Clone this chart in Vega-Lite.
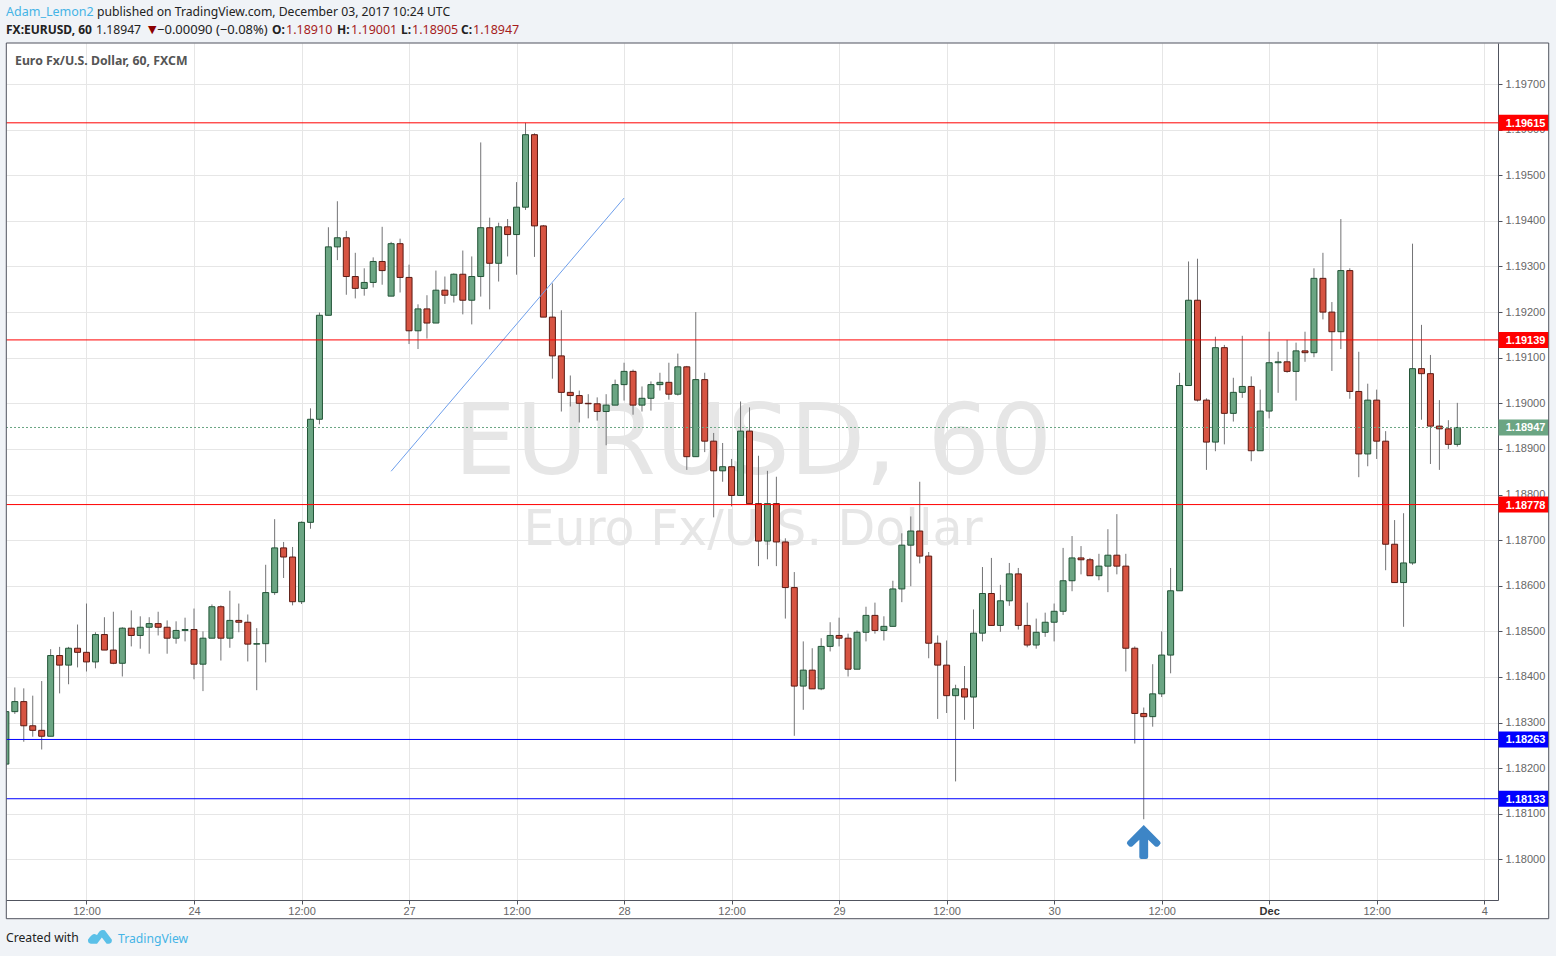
{"$schema":"https://vega.github.io/schema/vega-lite/v6.json","width":1492,"height":857,"autosize":"none","padding":{"left":6,"top":43,"right":58,"bottom":56},"background":"#ffffff","config":{"view":{"stroke":null},"font":"Liberation Sans"},
"datasets":{
"candles":[
{"t":-9,"o":1.18209,"h":1.18324,"l":1.18205,"c":1.18324,"d":"up"},
{"t":-8,"o":1.18324,"h":1.18377,"l":1.18319,"c":1.18346,"d":"up"},
{"t":-7,"o":1.18346,"h":1.18375,"l":1.18258,"c":1.18293,"d":"down"},
{"t":-6,"o":1.18293,"h":1.18359,"l":1.18269,"c":1.18283,"d":"down"},
{"t":-5,"o":1.18283,"h":1.18391,"l":1.18241,"c":1.1827,"d":"down"},
{"t":-4,"o":1.1827,"h":1.18461,"l":1.1827,"c":1.18447,"d":"up"},
{"t":-3,"o":1.18447,"h":1.18466,"l":1.18364,"c":1.18426,"d":"down"},
{"t":-2,"o":1.18426,"h":1.18466,"l":1.18384,"c":1.18463,"d":"up"},
{"t":-1,"o":1.18463,"h":1.18515,"l":1.18421,"c":1.18454,"d":"down"},
{"t":0,"o":1.18454,"h":1.18561,"l":1.18412,"c":1.18433,"d":"down"},
{"t":1,"o":1.18433,"h":1.18498,"l":1.18419,"c":1.18493,"d":"up"},
{"t":2,"o":1.18493,"h":1.18531,"l":1.18459,"c":1.18459,"d":"down"},
{"t":3,"o":1.18459,"h":1.18543,"l":1.18428,"c":1.1843,"d":"down"},
{"t":4,"o":1.1843,"h":1.18509,"l":1.18401,"c":1.18507,"d":"up"},
{"t":5,"o":1.18507,"h":1.18546,"l":1.18467,"c":1.18491,"d":"down"},
{"t":6,"o":1.18491,"h":1.18533,"l":1.18462,"c":1.18509,"d":"up"},
{"t":7,"o":1.18509,"h":1.18531,"l":1.18451,"c":1.18517,"d":"up"},
{"t":8,"o":1.18517,"h":1.18543,"l":1.18491,"c":1.18509,"d":"down"},
{"t":9,"o":1.18509,"h":1.18524,"l":1.18451,"c":1.18485,"d":"down"},
{"t":10,"o":1.18485,"h":1.18522,"l":1.18473,"c":1.18502,"d":"up"},
{"t":11,"o":1.18502,"h":1.1853,"l":1.18478,"c":1.18504,"d":"up"},
{"t":12,"o":1.18504,"h":1.1855,"l":1.18395,"c":1.18428,"d":"down"},
{"t":13,"o":1.18428,"h":1.185,"l":1.18369,"c":1.18485,"d":"up"},
{"t":14,"o":1.18485,"h":1.18559,"l":1.18485,"c":1.18554,"d":"up"},
{"t":15,"o":1.18554,"h":1.18557,"l":1.18436,"c":1.18485,"d":"down"},
{"t":16,"o":1.18485,"h":1.18589,"l":1.18464,"c":1.18524,"d":"up"},
{"t":17,"o":1.18524,"h":1.18561,"l":1.18498,"c":1.1852,"d":"down"},
{"t":18,"o":1.1852,"h":1.18537,"l":1.18434,"c":1.18472,"d":"down"},
{"t":19,"o":1.18472,"h":1.18507,"l":1.18371,"c":1.18473,"d":"up"},
{"t":20,"o":1.18473,"h":1.18646,"l":1.18432,"c":1.18585,"d":"up"},
{"t":21,"o":1.18585,"h":1.18746,"l":1.1858,"c":1.18683,"d":"up"},
{"t":22,"o":1.18683,"h":1.18696,"l":1.18617,"c":1.18663,"d":"down"},
{"t":23,"o":1.18663,"h":1.18685,"l":1.18557,"c":1.18565,"d":"down"},
{"t":24,"o":1.18565,"h":1.18741,"l":1.1856,"c":1.18739,"d":"up"},
{"t":25,"o":1.18739,"h":1.18989,"l":1.18725,"c":1.18965,"d":"up"},
{"t":26,"o":1.18965,"h":1.19199,"l":1.18954,"c":1.19193,"d":"up"},
{"t":27,"o":1.19193,"h":1.19386,"l":1.19193,"c":1.19343,"d":"up"},
{"t":28,"o":1.19343,"h":1.19443,"l":1.19314,"c":1.19363,"d":"up"},
{"t":29,"o":1.19363,"h":1.19378,"l":1.19238,"c":1.19278,"d":"down"},
{"t":30,"o":1.19278,"h":1.1933,"l":1.1923,"c":1.19252,"d":"down"},
{"t":31,"o":1.19252,"h":1.19296,"l":1.19236,"c":1.19265,"d":"up"},
{"t":32,"o":1.19265,"h":1.1932,"l":1.19254,"c":1.19311,"d":"up"},
{"t":33,"o":1.19311,"h":1.19387,"l":1.1926,"c":1.19291,"d":"down"},
{"t":34,"o":1.19235,"h":1.19354,"l":1.19235,"c":1.1935,"d":"up"},
{"t":35,"o":1.1935,"h":1.19361,"l":1.19243,"c":1.19276,"d":"down"},
{"t":36,"o":1.19276,"h":1.19304,"l":1.1913,"c":1.19159,"d":"down"},
{"t":37,"o":1.19159,"h":1.19217,"l":1.19119,"c":1.19207,"d":"up"},
{"t":38,"o":1.19207,"h":1.19237,"l":1.19142,"c":1.19176,"d":"down"},
{"t":39,"o":1.19176,"h":1.19291,"l":1.19176,"c":1.19248,"d":"up"},
{"t":40,"o":1.19248,"h":1.19278,"l":1.19218,"c":1.19237,"d":"down"},
{"t":41,"o":1.19237,"h":1.19285,"l":1.19221,"c":1.19283,"d":"up"},
{"t":42,"o":1.19283,"h":1.19335,"l":1.19195,"c":1.19226,"d":"down"},
{"t":43,"o":1.19226,"h":1.19322,"l":1.19173,"c":1.19278,"d":"up"},
{"t":44,"o":1.19278,"h":1.19572,"l":1.19234,"c":1.19385,"d":"up"},
{"t":45,"o":1.19385,"h":1.19407,"l":1.19206,"c":1.19307,"d":"down"},
{"t":46,"o":1.19307,"h":1.19396,"l":1.19267,"c":1.19387,"d":"up"},
{"t":47,"o":1.19387,"h":1.19404,"l":1.19322,"c":1.1937,"d":"down"},
{"t":48,"o":1.1937,"h":1.19485,"l":1.19282,"c":1.1943,"d":"up"},
{"t":49,"o":1.1943,"h":1.19615,"l":1.19424,"c":1.19589,"d":"up"},
{"t":50,"o":1.19589,"h":1.19592,"l":1.19321,"c":1.19389,"d":"down"},
{"t":51,"o":1.19389,"h":1.19391,"l":1.19189,"c":1.19189,"d":"down"},
{"t":52,"o":1.19189,"h":1.19263,"l":1.19054,"c":1.19104,"d":"down"},
{"t":53,"o":1.19104,"h":1.19204,"l":1.18982,"c":1.19024,"d":"down"},
{"t":54,"o":1.19024,"h":1.19061,"l":1.18993,"c":1.19017,"d":"down"},
{"t":55,"o":1.19017,"h":1.19028,"l":1.18958,"c":1.19,"d":"down"},
{"t":56,"o":1.19,"h":1.1902,"l":1.18967,"c":1.18999,"d":"down"},
{"t":57,"o":1.18999,"h":1.19013,"l":1.18962,"c":1.18982,"d":"down"},
{"t":58,"o":1.18982,"h":1.1902,"l":1.18908,"c":1.18996,"d":"up"},
{"t":59,"o":1.18996,"h":1.19052,"l":1.18996,"c":1.19041,"d":"up"},
{"t":60,"o":1.19041,"h":1.19089,"l":1.19006,"c":1.1907,"d":"up"},
{"t":61,"o":1.1907,"h":1.19074,"l":1.18975,"c":1.18996,"d":"down"},
{"t":62,"o":1.18996,"h":1.19037,"l":1.18982,"c":1.19011,"d":"up"},
{"t":63,"o":1.19011,"h":1.19048,"l":1.18984,"c":1.19041,"d":"up"},
{"t":64,"o":1.19041,"h":1.19067,"l":1.19028,"c":1.19046,"d":"up"},
{"t":65,"o":1.19046,"h":1.19089,"l":1.19008,"c":1.1902,"d":"down"},
{"t":66,"o":1.1902,"h":1.19109,"l":1.19017,"c":1.1908,"d":"up"},
{"t":67,"o":1.1908,"h":1.19082,"l":1.18854,"c":1.18883,"d":"down"},
{"t":68,"o":1.18883,"h":1.192,"l":1.18883,"c":1.19052,"d":"up"},
{"t":69,"o":1.19052,"h":1.19067,"l":1.18893,"c":1.18917,"d":"down"},
{"t":70,"o":1.18917,"h":1.18935,"l":1.1875,"c":1.18852,"d":"down"},
{"t":71,"o":1.18852,"h":1.18913,"l":1.18828,"c":1.18861,"d":"up"},
{"t":72,"o":1.18861,"h":1.18878,"l":1.18774,"c":1.18798,"d":"down"},
{"t":73,"o":1.18798,"h":1.19004,"l":1.18798,"c":1.18939,"d":"up"},
{"t":74,"o":1.18939,"h":1.18991,"l":1.1878,"c":1.1878,"d":"down"},
{"t":75,"o":1.1878,"h":1.18885,"l":1.18643,"c":1.18698,"d":"down"},
{"t":76,"o":1.18698,"h":1.18852,"l":1.18658,"c":1.1878,"d":"up"},
{"t":77,"o":1.1878,"h":1.18839,"l":1.18643,"c":1.18696,"d":"down"},
{"t":78,"o":1.18696,"h":1.18704,"l":1.18528,"c":1.18596,"d":"down"},
{"t":79,"o":1.18596,"h":1.1863,"l":1.18271,"c":1.1838,"d":"down"},
{"t":80,"o":1.1838,"h":1.18478,"l":1.18328,"c":1.18415,"d":"up"},
{"t":81,"o":1.18415,"h":1.18463,"l":1.18374,"c":1.18374,"d":"down"},
{"t":82,"o":1.18374,"h":1.18485,"l":1.18371,"c":1.18467,"d":"up"},
{"t":83,"o":1.18467,"h":1.1852,"l":1.18456,"c":1.18491,"d":"up"},
{"t":84,"o":1.18491,"h":1.1853,"l":1.18467,"c":1.18485,"d":"down"},
{"t":85,"o":1.18485,"h":1.18495,"l":1.18401,"c":1.18417,"d":"down"},
{"t":86,"o":1.18417,"h":1.18502,"l":1.18417,"c":1.18498,"d":"up"},
{"t":87,"o":1.18498,"h":1.18554,"l":1.18478,"c":1.18535,"d":"up"},
{"t":88,"o":1.18535,"h":1.18563,"l":1.18495,"c":1.18502,"d":"down"},
{"t":89,"o":1.18502,"h":1.18533,"l":1.1848,"c":1.18511,"d":"up"},
{"t":90,"o":1.18511,"h":1.18611,"l":1.18511,"c":1.18593,"d":"up"},
{"t":91,"o":1.18593,"h":1.18715,"l":1.18564,"c":1.18689,"d":"up"},
{"t":92,"o":1.18689,"h":1.18752,"l":1.18599,"c":1.1872,"d":"up"},
{"t":93,"o":1.1872,"h":1.18828,"l":1.18649,"c":1.18665,"d":"down"},
{"t":94,"o":1.18665,"h":1.18674,"l":1.18441,"c":1.18474,"d":"down"},
{"t":95,"o":1.18474,"h":1.18491,"l":1.18308,"c":1.18426,"d":"down"},
{"t":96,"o":1.18426,"h":1.1848,"l":1.18321,"c":1.18359,"d":"down"},
{"t":97,"o":1.18359,"h":1.18383,"l":1.18171,"c":1.18374,"d":"up"},
{"t":98,"o":1.18374,"h":1.18424,"l":1.18306,"c":1.18356,"d":"down"},
{"t":99,"o":1.18356,"h":1.18548,"l":1.18286,"c":1.18496,"d":"up"},
{"t":100,"o":1.18496,"h":1.18641,"l":1.18478,"c":1.18583,"d":"up"},
{"t":101,"o":1.18583,"h":1.18661,"l":1.18513,"c":1.18513,"d":"down"},
{"t":102,"o":1.18513,"h":1.18602,"l":1.18499,"c":1.18567,"d":"up"},
{"t":103,"o":1.18567,"h":1.1865,"l":1.18556,"c":1.18626,"d":"up"},
{"t":104,"o":1.18626,"h":1.18639,"l":1.18504,"c":1.18513,"d":"down"},
{"t":105,"o":1.18513,"h":1.18563,"l":1.18465,"c":1.1847,"d":"down"},
{"t":106,"o":1.1847,"h":1.18528,"l":1.18462,"c":1.18498,"d":"up"},
{"t":107,"o":1.18498,"h":1.18541,"l":1.18488,"c":1.1852,"d":"up"},
{"t":108,"o":1.1852,"h":1.18561,"l":1.18478,"c":1.18544,"d":"up"},
{"t":109,"o":1.18544,"h":1.18683,"l":1.18536,"c":1.18611,"d":"up"},
{"t":110,"o":1.18611,"h":1.18709,"l":1.18588,"c":1.18661,"d":"up"},
{"t":111,"o":1.18661,"h":1.18687,"l":1.18625,"c":1.18657,"d":"down"},
{"t":112,"o":1.18657,"h":1.18661,"l":1.18622,"c":1.18622,"d":"down"},
{"t":113,"o":1.18622,"h":1.1867,"l":1.18612,"c":1.18643,"d":"up"},
{"t":114,"o":1.18643,"h":1.18724,"l":1.18586,"c":1.18667,"d":"up"},
{"t":115,"o":1.18667,"h":1.18757,"l":1.18625,"c":1.18643,"d":"down"},
{"t":116,"o":1.18643,"h":1.1867,"l":1.18412,"c":1.18463,"d":"down"},
{"t":117,"o":1.18463,"h":1.18467,"l":1.18254,"c":1.1832,"d":"down"},
{"t":118,"o":1.1832,"h":1.18333,"l":1.18088,"c":1.18313,"d":"down"},
{"t":119,"o":1.18313,"h":1.18428,"l":1.18291,"c":1.18363,"d":"up"},
{"t":120,"o":1.18363,"h":1.185,"l":1.18356,"c":1.18448,"d":"up"},
{"t":121,"o":1.18448,"h":1.18639,"l":1.18408,"c":1.18589,"d":"up"},
{"t":122,"o":1.18589,"h":1.19067,"l":1.18589,"c":1.19039,"d":"up"},
{"t":123,"o":1.19039,"h":1.19311,"l":1.19039,"c":1.19226,"d":"up"},
{"t":124,"o":1.19226,"h":1.19317,"l":1.19004,"c":1.19007,"d":"down"},
{"t":125,"o":1.19007,"h":1.19011,"l":1.18854,"c":1.18915,"d":"down"},
{"t":126,"o":1.18915,"h":1.19146,"l":1.18895,"c":1.19122,"d":"up"},
{"t":127,"o":1.19122,"h":1.19128,"l":1.1891,"c":1.18978,"d":"down"},
{"t":128,"o":1.18978,"h":1.19056,"l":1.1896,"c":1.19024,"d":"up"},
{"t":129,"o":1.19024,"h":1.19148,"l":1.19012,"c":1.19037,"d":"up"},
{"t":130,"o":1.19037,"h":1.19059,"l":1.18873,"c":1.18896,"d":"down"},
{"t":131,"o":1.18896,"h":1.1903,"l":1.18896,"c":1.18983,"d":"up"},
{"t":132,"o":1.18983,"h":1.19157,"l":1.18967,"c":1.19089,"d":"up"},
{"t":133,"o":1.19089,"h":1.19113,"l":1.19023,"c":1.19091,"d":"up"},
{"t":134,"o":1.19091,"h":1.19139,"l":1.19067,"c":1.1907,"d":"down"},
{"t":135,"o":1.1907,"h":1.19133,"l":1.19006,"c":1.19115,"d":"up"},
{"t":136,"o":1.19115,"h":1.19157,"l":1.19091,"c":1.19111,"d":"down"},
{"t":137,"o":1.19111,"h":1.19296,"l":1.19101,"c":1.19274,"d":"up"},
{"t":138,"o":1.19274,"h":1.1933,"l":1.19184,"c":1.192,"d":"down"},
{"t":139,"o":1.192,"h":1.19222,"l":1.19071,"c":1.19157,"d":"down"},
{"t":140,"o":1.19157,"h":1.19404,"l":1.19119,"c":1.19291,"d":"up"},
{"t":141,"o":1.19291,"h":1.19296,"l":1.1901,"c":1.19026,"d":"down"},
{"t":142,"o":1.19026,"h":1.19113,"l":1.18838,"c":1.18889,"d":"down"},
{"t":143,"o":1.18889,"h":1.19043,"l":1.18862,"c":1.19007,"d":"up"},
{"t":144,"o":1.19007,"h":1.1903,"l":1.18878,"c":1.18917,"d":"down"},
{"t":145,"o":1.18917,"h":1.18939,"l":1.18634,"c":1.18691,"d":"down"},
{"t":146,"o":1.18691,"h":1.18744,"l":1.18607,"c":1.18607,"d":"down"},
{"t":147,"o":1.18607,"h":1.18759,"l":1.1851,"c":1.1865,"d":"up"},
{"t":148,"o":1.1865,"h":1.1935,"l":1.18646,"c":1.19076,"d":"up"},
{"t":149,"o":1.19076,"h":1.19172,"l":1.18964,"c":1.19065,"d":"down"},
{"t":150,"o":1.19065,"h":1.19106,"l":1.18867,"c":1.1895,"d":"down"},
{"t":151,"o":1.1895,"h":1.19007,"l":1.18854,"c":1.18944,"d":"down"},
{"t":152,"o":1.18944,"h":1.18963,"l":1.189,"c":1.1891,"d":"down"},
{"t":153,"o":1.1891,"h":1.19001,"l":1.18905,"c":1.18947,"d":"up"}
],
"levels":[{"t":-8.984,"t2":157.54,"p":1.19615,"kind":"upper"},{"t":-8.984,"t2":157.54,"p":1.19139,"kind":"upper"},{"t":-8.984,"t2":157.54,"p":1.18778,"kind":"upper"},{"t":-8.984,"t2":157.54,"p":1.18263,"kind":"lower"},{"t":-8.984,"t2":157.54,"p":1.18133,"kind":"lower"}],
"tags":[{"t":157.6,"t2":163.2,"tx":158.4,"p":1.19615,"kind":"upper","label":"1.19615"},{"t":157.6,"t2":163.2,"tx":158.4,"p":1.19139,"kind":"upper","label":"1.19139"},{"t":157.6,"t2":163.2,"tx":158.4,"p":1.18947,"kind":"last","label":"1.18947"},{"t":157.6,"t2":163.2,"tx":158.4,"p":1.18778,"kind":"upper","label":"1.18778"},{"t":157.6,"t2":163.2,"tx":158.4,"p":1.18263,"kind":"lower","label":"1.18263"},{"t":157.6,"t2":163.2,"tx":158.4,"p":1.18133,"kind":"lower","label":"1.18133"}],
"panels":[{"t0":-9.7,"t1":164.1,"p0":1.1979,"p1":1.199},{"t0":-9.7,"t1":164.1,"p0":1.177,"p1":1.1787},{"t0":-9.7,"t1":-8.95,"p0":1.177,"p1":1.199},{"t0":163.2,"t1":164.1,"p0":1.177,"p1":1.199}]
},
"encoding":{
"x":{"field":"t","type":"quantitative","title":null,"scale":{"domain":[-8.984,157.54],"nice":false,"zero":false,"padding":0},"axis":{"values":[0,12,24,36,48,60,72,84,96,108,120,132,144,156],"labelExpr":"{'12':'24','36':'27','60':'28','84':'29','108':'30','132':'Dec','156':'4'}[datum.value] || '12:00'","labelFontWeight":{"condition":{"test":"datum.value==132","value":"bold"},"value":"normal"},"labelColor":{"condition":{"test":"datum.value==132","value":"#333333"},"value":"#666666"},"grid":true,"gridColor":"#e6e6e6","domainColor":"#50535e","tickColor":"#50535e","tickSize":4,"labelFontSize":11,"labelFont":"Liberation Sans","labelPadding":1,"labelFlush":false,"labelOverlap":false,"title":null}},
"y":{"field":"p","type":"quantitative","title":null,"scale":{"domain":[1.17911,1.1979],"nice":false,"zero":false,"padding":0},"axis":{"orient":"right","values":[1.18,1.181,1.182,1.183,1.184,1.185,1.186,1.187,1.188,1.189,1.19,1.191,1.192,1.193,1.194,1.195,1.196,1.197],"format":".5f","grid":true,"gridColor":"#e6e6e6","domainColor":"#50535e","tickColor":"#50535e","tickSize":4,"labelColor":"#666666","labelFontSize":11,"labelFont":"Liberation Sans","labelPadding":3,"labelOverlap":false,"title":null}}
},
"layer":[
{"data":{"values":[{"t":74.4,"p":1.18845,"label":"EURUSD, 60"}]},"mark":{"type":"text","font":"DejaVu Sans","fontSize":98,"color":"#e6e6e6","align":"center","baseline":"alphabetic"},"encoding":{"text":{"field":"label"}}},
{"data":{"values":[{"t":74.4,"p":1.18689,"label":"Euro Fx/U.S. Dollar"}]},"mark":{"type":"text","font":"DejaVu Sans","fontSize":49,"color":"#e6e6e6","align":"center","baseline":"alphabetic"},"encoding":{"text":{"field":"label"}}},
{"data":{"name":"candles"},"mark":{"type":"rule","color":"#737375","strokeWidth":1,"clip":true},"encoding":{"y":{"field":"l","type":"quantitative"},"y2":{"field":"h"}}},
{"data":{"name":"candles"},"mark":{"type":"bar","size":6,"strokeWidth":1,"clip":true,"orient":"vertical"},"encoding":{"y":{"field":"o","type":"quantitative"},"y2":{"field":"c"},"fill":{"field":"d","type":"nominal","legend":null,"scale":{"domain":["up","down"],"range":["#6ba583","#d75442"]}},"stroke":{"field":"d","type":"nominal","legend":null,"scale":{"domain":["up","down"],"range":["#225437","#5b1a13"]}}}},
{"data":{"values":[{"t":34,"p":1.18851},{"t":60,"p":1.1945}]},"mark":{"type":"line","color":"#6d9eeb","strokeWidth":1}},
{"data":{"name":"levels"},"mark":{"type":"rule","strokeWidth":1},"encoding":{"x2":{"field":"t2"},"color":{"field":"kind","type":"nominal","legend":null,"scale":{"domain":["upper","lower","last"],"range":["#ff0000","#0000ff","#6ba583"]}}}},
{"data":{"values":[{"t":-8.984,"t2":157.54,"p":1.18947}]},"mark":{"type":"rule","color":"#6ba583","strokeWidth":1,"strokeDash":[2,2]},"encoding":{"x2":{"field":"t2"}}},
{"data":{"name":"tags"},"mark":{"type":"bar","orient":"horizontal","size":16},"encoding":{"x2":{"field":"t2"},"color":{"field":"kind","type":"nominal","legend":null}}},
{"data":{"name":"tags"},"mark":{"type":"text","font":"Liberation Sans","fontSize":11,"fontWeight":"bold","color":"#ffffff","align":"left","baseline":"middle","dy":1},"encoding":{"x":{"field":"tx","type":"quantitative"},"text":{"field":"label"}}},
{"data":{"values":[{"t":118,"p":1.18038}]},"mark":{"type":"point","filled":true,"opacity":1,"color":"#3d85c6","size":4624,"shape":"M0,-0.5 L0.48,-0.02 Q0.52,0.03 0.47,0.08 L0.43,0.12 Q0.38,0.16 0.33,0.12 L0.13,-0.07 L0.13,0.44 Q0.13,0.5 0.07,0.5 L-0.07,0.5 Q-0.13,0.5 -0.13,0.44 L-0.13,-0.07 L-0.33,0.12 Q-0.38,0.16 -0.43,0.12 L-0.47,0.08 Q-0.52,0.03 -0.48,-0.02 Z"}},
{"data":{"name":"panels"},"mark":{"type":"rect","fill":"#f0f3f7","stroke":null},"encoding":{"x":{"field":"t0","type":"quantitative"},"x2":{"field":"t1"},"y":{"field":"p0","type":"quantitative"},"y2":{"field":"p1"}}},
{"data":{"values":[{"t0":-8.95,"t1":163.2,"p0":1.1787,"p1":1.1979}]},"mark":{"type":"rect","fill":null,"stroke":"#50535e","strokeWidth":1},"encoding":{"x":{"field":"t0","type":"quantitative"},"x2":{"field":"t1"},"y":{"field":"p0","type":"quantitative"},"y2":{"field":"p1"}}},
{"data":{"values":[{"t":-8.984,"p":1.19858,"label":"Adam_Lemon2"}]},"mark":{"type":"text","font":"Noto Sans","fontSize":12.5,"color":"#45b4e6","align":"left","baseline":"middle"},"encoding":{"text":{"field":"label"}}},
{"data":{"values":[{"t":1.17,"p":1.19858,"label":"published on TradingView.com, December 03, 2017 10:24 UTC"},{"t":1.06,"p":1.19818,"label":"1.18947"},{"t":-8.984,"p":1.17828,"label":"Created with"}]},"mark":{"type":"text","font":"Noto Sans","fontSize":12.2,"color":"#222222","align":"left","baseline":"middle"},"encoding":{"text":{"field":"label"}}},
{"data":{"values":[{"t":7.87,"p":1.19818,"label":"−0.00090 (−0.08%)"}]},"mark":{"type":"text","font":"Noto Sans","fontSize":13,"color":"#222222","align":"left","baseline":"middle"},"encoding":{"text":{"field":"label"}}},
{"data":{"values":[{"t":-8.984,"p":1.19818,"label":"FX:EURUSD, 60"},{"t":20.7,"p":1.19818,"label":"O:"},{"t":27.96,"p":1.19818,"label":"H:"},{"t":35.1,"p":1.19818,"label":"L:"},{"t":41.8,"p":1.19818,"label":"C:"}]},"mark":{"type":"text","font":"Noto Sans","fontSize":12,"fontWeight":"bold","color":"#222222","align":"left","baseline":"middle"},"encoding":{"text":{"field":"label"}}},
{"data":{"values":[{"t":22.27,"p":1.19818,"label":"1.18910"},{"t":29.52,"p":1.19818,"label":"1.19001"},{"t":36.33,"p":1.19818,"label":"1.18905"},{"t":43.14,"p":1.19818,"label":"1.18947"}]},"mark":{"type":"text","font":"Noto Sans","fontSize":12.5,"color":"#a61c1c","align":"left","baseline":"middle"},"encoding":{"text":{"field":"label"}}},
{"data":{"values":[{"t":6.86,"p":1.19818,"label":"▼"}]},"mark":{"type":"text","font":"DejaVu Sans","fontSize":11,"color":"#8b0000","align":"left","baseline":"middle"},"encoding":{"text":{"field":"label"}}},
{"data":{"values":[{"t":-7.98,"p":1.1975,"label":"Euro Fx/U.S. Dollar, 60, FXCM"}]},"mark":{"type":"text","font":"Noto Sans","fontSize":12.3,"fontWeight":"bold","color":"#555555","align":"left","baseline":"middle"},"encoding":{"text":{"field":"label"}}},
{"data":{"values":[{"t":3.52,"p":1.17826,"label":"TradingView"}]},"mark":{"type":"text","font":"Noto Sans","fontSize":12.2,"color":"#45b4e6","align":"left","baseline":"middle"},"encoding":{"text":{"field":"label"}}},
{"data":{"values":[{"t":1.5,"p":1.1783}]},"mark":{"type":"point","filled":true,"opacity":1,"color":"#5bc0e8","size":2304,"shape":"M-0.5,0.12 Q-0.35,-0.12 -0.22,-0.12 L-0.12,-0.08 Q0,-0.35 0.2,-0.28 L0.5,0.12 Q0.5,0.28 0.38,0.28 L0.28,0.28 L0.08,0.02 L-0.12,0.28 L-0.38,0.28 Q-0.5,0.28 -0.5,0.12Z"}}
]}
